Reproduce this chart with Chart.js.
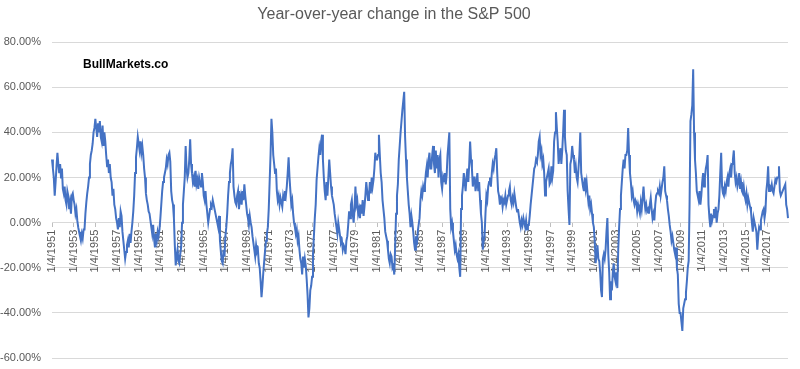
<!DOCTYPE html>
<html>
<head>
<meta charset="utf-8">
<script src="https://cdn.jsdelivr.net/npm/chart.js@4/dist/chart.umd.min.js"></script>
<style>
  html, body { margin: 0; padding: 0; background: #fff; }
</style>
</head>
<body>
<canvas id="chart" width="800" height="369"></canvas>
<script>
// --- Data: monthly year-over-year % change ---
const firstYear = 1951;

const yoy1951to1960 = [
  28, 24, 20, 12, 18, 25, 31, 26, 22, 26, 20, 24,
  15, 13, 16, 10, 8, 14, 12, 6, 9, 4, 12, 13,
  10, 8, 4, 6, 1, -2, -4, -6, -8, -5, -7, -3,
  -3, 4, 9, 13, 16, 20, 26, 30, 32, 35, 40, 42,
  46, 42, 38, 44, 40, 45, 38, 36, 43, 34, 40, 36,
  30, 25, 28, 22, 26, 20, 18, 12, 15, 8, 6, 2,
  0, -3, 2, -2, 5, 3, -4, -8, -12, -16, -13, -10,
  -8, -11, -5, -9, -4, 0, 5, 12, 22, 29, 33, 38,
  35, 32, 36, 31, 34, 30, 24, 20, 13, 10, 8, 5,
  4, 1, -2, -5, -1, -7, -11, -5, -8, -4, -6, -3
];

const yoy1961to1970 = [
  2, 8, 14, 18, 20, 22, 24, 28, 26, 30, 31, 27,
  14, 10, 8, 2, -10, -19, -15, -12, -17, -18, -14, -11,
  0, 8, 14, 20, 34, 24, 20, 22, 28, 37, 26, 22,
  18, 20, 16, 23, 17, 19, 15, 20, 18, 16, 22, 18,
  12, 10, 14, 8, 4, 0, 3, 6, 8, 7, 10, 8,
  6, 4, 2, 0, -2, 3, -8, -13, -17, -18, -12, -15,
  -6, -2, 4, 12, 18, 22, 26, 28, 33, 16, 12, 9,
  8, 12, 14, 6, 10, 12, 8, 14, 10, 17, 12, 8,
  4, 2, -1, 3, 0, -2, -6, -9, -12, -15, -10, -13,
  -12, -18, -20, -26, -33, -28, -22, -17, -12, -8, -5, -2
];

const yoy1971to1980 = [
  6, 18, 30, 46, 40, 30, 26, 22, 24, 14, 10, 12,
  8, 11, 9, 7, 12, 10, 14, 12, 16, 22, 29, 20,
  14, 8, 10, 4, 0, -2, -5, -3, -8, -6, -12, -16,
  -18, -23, -15, -20, -16, -19, -25, -32, -42, -38, -30, -28,
  -24, -14, -6, 2, 8, 19, 24, 29, 33, 30, 36, 39,
  28, 20, 14, 10, 18, 12, 20, 28, 22, 16, 12, 10,
  8, 4, 1, -2, -5, 0, -3, -6, -9, -8, -12, -10,
  -11, -14, -8, -6, -1, 5, 2, 8, 10, 4, 0, 6,
  16, 8, 10, 4, 6, 2, 8, 4, 10, 3, 7, 12,
  18, 14, 10, 12, 18, 13, 20, 16, 19, 24, 31, 28
];

const yoy1981to1990 = [
  28, 30, 39, 30, 22, 18, 10, 6, 2, -4, -6, -8,
  -12, -16, -18, -14, -15, -20, -19, -23, -10, 4, 12, 17,
  28, 34, 40, 45, 50, 54, 58, 38, 28, 20, 14, 8,
  4, -2, 3, 0, -4, -9, -12, -6, -10, -4, -1, 2,
  10, 14, 12, 16, 14, 17, 22, 25, 20, 28, 31, 24,
  24, 30, 34, 26, 22, 32, 24, 30, 20, 28, 30, 18,
  15, 20, 18, 22, 17, 21, 30, 35, 40, 6, -2, 0,
  -4, -8, -12, -10, -14, -16, -14, -20, -24, 6, 12, 16,
  22, 18, 14, 20, 24, 18, 26, 36, 28, 24, 16, 20,
  20, 14, 17, 22, 14, 18, 10, 4, 0, -12, -8, -6
];

const yoy1991to2000 = [
  4, 12, 10, 16, 18, 20, 16, 22, 26, 24, 28, 30,
  33, 22, 14, 12, 8, 10, 11, 7, 10, 9, 12, 8,
  10, 12, 14, 16, 10, 8, 11, 9, 13, 10, 7, 5,
  6, 3, 0, -2, 1, -1, 2, 0, -2, 1, -3, -1,
  -1, 3, 8, 12, 16, 20, 24, 25, 28, 27, 30, 36,
  38, 30, 32, 26, 28, 22, 12, 18, 20, 22, 24, 17,
  18, 25, 20, 23, 36, 40, 49, 42, 36, 26, 30, 33,
  26, 32, 40, 50, 38, 32, 30, 14, 6, -1, 26, 28,
  34, 30, 28, 22, 25, 20, 18, 24, 30, 40, 22, 19,
  16, 14, 20, 15, 18, 13, 9, 12, 6, 8, 4, 0
];

const yoy2001to2010 = [
  -2, -8, -18, -14, -10, -16, -17, -22, -30, -33, -16, -14,
  -16, -12, -4, 2, -14, -22, -34, -26, -30, -22, -18, -24,
  -26, -22, -29, -12, -2, 6, 12, 18, 24, 28, 24, 30,
  30, 32, 42, 30, 22, 18, 12, 14, 10, 8, 10, 9,
  5, 8, 6, 4, 9, 6, 11, 16, 10, 6, 8, 5,
  6, 4, 8, 11, 6, 2, 4, 1, 8, 12, 13, 14,
  13, 16, 12, 15, 18, 20, 25, 14, 12, 10, 6, 3,
  -1, -4, -8, -6, -9, -12, -14, -11, -20, -23, -36, -40,
  -40, -44, -48, -38, -36, -34, -31, -26, -20, -17, 8, 45,
  48, 52, 68, 40, 28, 22, 14, 12, 10, 14, 8, 12
];

const yoy2011to2018 = [
  18, 22, 16, 20, 24, 26, 30, 8, 2, -2, 4, 1,
  3, 6, 2, 7, 0, 4, 6, 12, 22, 31, 16, 13,
  12, 16, 14, 18, 20, 16, 22, 24, 20, 26, 28, 32,
  22, 18, 20, 16, 18, 22, 15, 18, 14, 13, 16, 12,
  10, 13, 8, 11, 9, 7, 5, 0, -4, 2, 0, -2,
  -4, -12, -6, -2, -3, 1, 3, 5, 6, 2, 5, 14,
  18, 25, 14, 16, 15, 17, 14, 13, 16, 19, 18, 20,
  20, 25, 14, 12, 13, 14, 15, 16, 17, 8, 6, 2
];

const yTicks = [-60, -40, -20, 0, 20, 40, 60, 80];
const labelEveryYears = 2;

const TITLE = "Year-over-year change in the S&P 500";
const WATERMARK = "BullMarkets.co";
const FONT = "'Liberation Sans', Arial, sans-serif";

// --- Build series + date labels ---
const values = [].concat(
  yoy1951to1960, yoy1961to1970, yoy1971to1980,
  yoy1981to1990, yoy1991to2000, yoy2001to2010, yoy2011to2018
);
const labels = values.map((_, i) => `${i % 12 + 1}/4/${firstYear + Math.floor(i / 12)}`);

// watermark text inside the plot
const watermark = {
  id: "watermark",
  afterDraw(c) {
    const ctx = c.ctx;
    ctx.save();
    ctx.font = "bold 12px " + FONT;
    ctx.fillStyle = "#000";
    ctx.textBaseline = "middle";
    ctx.fillText(WATERMARK, 83, 65);
    ctx.restore();
  }
};

const chart = new Chart(document.getElementById("chart"), {
  type: "line",
  data: {
    labels: labels,
    datasets: [{
      data: values,
      borderColor: "#4472C4",
      borderWidth: 2,
      pointRadius: 0,
      tension: 0,
      fill: false
    }]
  },
  options: {
    responsive: false,
    animation: false,
    layout: { padding: { left: 0, right: 12, top: 0, bottom: 11 } },
    plugins: {
      legend: { display: false },
      tooltip: { enabled: false },
      title: {
        display: true,
        text: TITLE,
        color: "#595959",
        font: { family: FONT, size: 16, weight: "normal" },
        padding: { top: 5, bottom: 18 }
      }
    },
    scales: {
      x: {
        position: { y: 0 },
        offset: false,
        grid: { drawOnChartArea: false, drawTicks: true, tickLength: 4, color: "#bfbfbf" },
        border: { display: true, color: "#d9d9d9" },
        ticks: {
          autoSkip: false,
          minRotation: 90,
          maxRotation: 90,
          padding: 3,
          color: "#595959",
          font: { family: FONT, size: 11 },
          callback: (v, i) => (i % (12 * labelEveryYears) === 0 ? labels[i] : null)
        }
      },
      y: {
        min: yTicks[0],
        max: yTicks[yTicks.length - 1],
        afterFit: (s) => { s.width = 52; s.paddingTop = 0; s.paddingBottom = 0; },
        grid: { color: "#d9d9d9", drawTicks: false },
        border: { display: false },
        ticks: {
          stepSize: 20,
          padding: 11,
          color: "#595959",
          font: { family: FONT, size: 11 },
          callback: (v) => v.toFixed(2) + "%"
        }
      }
    }
  },
  plugins: [watermark]
});
</script>
</body>
</html>
